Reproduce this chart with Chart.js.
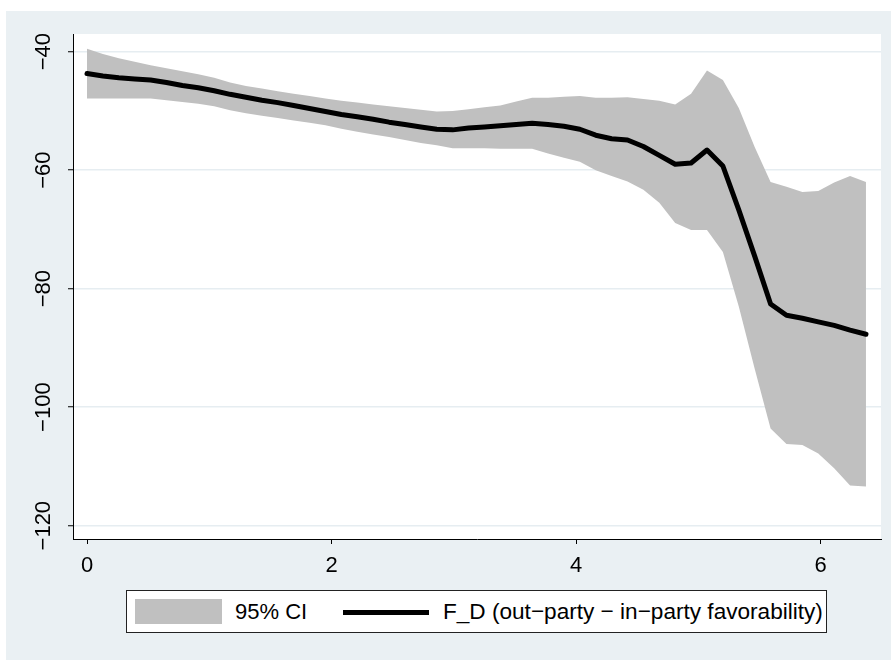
<!DOCTYPE html>
<html>
<head>
<meta charset="utf-8">
<script src="https://cdn.jsdelivr.net/npm/chart.js@4.4.1/dist/chart.umd.min.js"></script>
<style>
  html, body { margin: 0; padding: 0; background: #ffffff; }
  #wrap { position: relative; width: 891px; height: 660px; }
  #c { position: absolute; left: 0; top: 0; }
  #legend {
    position: absolute; left: 126px; top: 590px; width: 701px; height: 43px;
    box-sizing: border-box; border: 1px solid #222; background: #ffffff;
    font-family: "Liberation Sans", Arial, Helvetica, sans-serif; font-size: 22px; color: #000;
  }
  #legend .sw1 { position: absolute; left: 8px; top: 8px; width: 87px; height: 25px; background: #c0c0c0; }
  #legend .t1 { position: absolute; left: 108px; top: 8px; line-height: 25px; white-space: nowrap; }
  #legend .sw2 { position: absolute; left: 216px; top: 19px; width: 86px; height: 5px; background: #000; }
  #legend .t2 { position: absolute; left: 316px; top: 8px; line-height: 25px; white-space: nowrap; font-size: 22.6px; }
</style>
</head>
<body>
<div id="wrap">
  <canvas id="c" width="891" height="660"></canvas>
  <div id="legend">
    <div class="sw1"></div><div class="t1">95% CI</div>
    <div class="sw2"></div><div class="t2">F_D (out−party − in−party favorability)</div>
  </div>
</div>
<script>
// ---- data ----
const xValues = [0, 0.13, 0.26, 0.39, 0.52, 0.65, 0.78, 0.91, 1.04, 1.17,
  1.30, 1.43, 1.56, 1.69, 1.82, 1.95, 2.08, 2.21, 2.34, 2.47,
  2.60, 2.73, 2.86, 2.99, 3.12, 3.25, 3.38, 3.51, 3.64, 3.77,
  3.90, 4.03, 4.16, 4.29, 4.42, 4.55, 4.68, 4.81, 4.94, 5.07,
  5.20, 5.33, 5.46, 5.59, 5.72, 5.85, 5.98, 6.11, 6.24, 6.37];

const fdValues = [-43.7, -44.1, -44.4, -44.6, -44.8, -45.2, -45.7, -46.1, -46.6, -47.2,
  -47.7, -48.2, -48.6, -49.1, -49.6, -50.1, -50.6, -51.0, -51.4, -51.9,
  -52.3, -52.7, -53.1, -53.2, -52.9, -52.7, -52.5, -52.3, -52.1, -52.3,
  -52.6, -53.1, -54.1, -54.7, -54.9, -56.0, -57.5, -59.0, -58.8, -56.6,
  -59.3, -66.7, -74.5, -82.6, -84.5, -85.0, -85.6, -86.2, -87.0, -87.7];

const ciUpper = [-39.5, -40.4, -41.1, -41.7, -42.3, -42.8, -43.3, -43.8, -44.4, -45.2,
  -45.8, -46.2, -46.7, -47.1, -47.5, -47.9, -48.3, -48.6, -48.9, -49.2,
  -49.5, -49.8, -50.1, -50.0, -49.7, -49.4, -49.1, -48.4, -47.8, -47.8,
  -47.6, -47.5, -47.8, -47.8, -47.7, -48.0, -48.3, -48.9, -47.1, -43.2,
  -44.8, -49.5, -56.1, -62.0, -62.8, -63.7, -63.5, -62.1, -61.0, -62.0];

const ciLower = [-47.9, -47.9, -47.9, -47.9, -47.9, -48.2, -48.5, -48.8, -49.2, -49.9,
  -50.4, -50.8, -51.2, -51.6, -52.0, -52.4, -53.0, -53.5, -54.0, -54.4,
  -54.9, -55.4, -55.8, -56.3, -56.3, -56.3, -56.4, -56.4, -56.4, -57.2,
  -57.9, -58.6, -60.0, -61.0, -61.9, -63.3, -65.5, -68.9, -70.1, -70.1,
  -73.8, -83.0, -93.5, -103.6, -106.2, -106.4, -107.8, -110.3, -113.2, -113.4];

const xTicks = [0, 2, 4, 6];
const xTickLabels = ['0', '2', '4', '6'];
const yTicks = [-40, -60, -80, -100, -120];
const yTickLabels = ['\u221240', '\u221260', '\u221280', '\u2212100', '\u2212120'];

// ---- styling ----
const REGION = '#eaf0f3';
const GRID = '#e6edf1';
const BAND = '#c0c0c0';
const FONT = { family: '"Liberation Sans", Arial, Helvetica, sans-serif', size: 22 };

const pts = (ys) => xValues.map((x, i) => ({ x: x, y: ys[i] }));

const bgPlugin = {
  id: 'bg',
  beforeDraw(chart) {
    const ctx = chart.ctx;
    const a = chart.chartArea;
    ctx.save();
    ctx.fillStyle = '#ffffff';
    ctx.fillRect(0, 0, chart.width, chart.height);
    ctx.fillStyle = REGION;
    ctx.fillRect(6, 11, chart.width - 6, chart.height - 11);
    ctx.fillStyle = '#ffffff';
    ctx.fillRect(a.left, a.top, a.right - a.left, a.bottom - a.top);
    ctx.restore();
  }
};

new Chart(document.getElementById('c'), {
  type: 'line',
  data: {
    datasets: [
      {
        label: 'F_D (out\u2212party \u2212 in\u2212party favorability)',
        data: pts(fdValues),
        borderColor: '#000000',
        borderWidth: 5,
        borderCapStyle: 'round',
        borderJoinStyle: 'round',
        pointRadius: 0,
        tension: 0,
        fill: false
      },
      {
        label: '95% CI upper',
        data: pts(ciUpper),
        borderWidth: 0,
        borderColor: 'rgba(0,0,0,0)',
        backgroundColor: BAND,
        pointRadius: 0,
        tension: 0,
        fill: '+1'
      },
      {
        label: '95% CI lower',
        data: pts(ciLower),
        borderWidth: 0,
        borderColor: 'rgba(0,0,0,0)',
        backgroundColor: BAND,
        pointRadius: 0,
        tension: 0,
        fill: false
      }
    ]
  },
  options: {
    responsive: false,
    animation: false,
    events: [],
    layout: { padding: { left: 0, top: 34, right: 10, bottom: 71 } },
    plugins: { legend: { display: false }, tooltip: { enabled: false } },
    scales: {
      x: {
        type: 'linear',
        min: -0.1145,
        max: 6.493,
        afterFit(s) { s.height = 50; },
        afterBuildTicks(s) { s.ticks = xTicks.map(v => ({ value: v })); },
        grid: { drawOnChartArea: false, drawTicks: true, tickLength: 5, tickColor: '#000', tickWidth: 1 },
        border: { display: true, color: '#000', width: 1 },
        ticks: {
          color: '#000', font: FONT, padding: 9, maxRotation: 0, autoSkip: false,
          callback(v) { const i = xTicks.indexOf(v); return i >= 0 ? xTickLabels[i] : ''; }
        }
      },
      y: {
        type: 'linear',
        min: -122.25,
        max: -37.02,
        afterFit(s) { s.width = 73; },
        afterBuildTicks(s) { s.ticks = yTicks.map(v => ({ value: v })); },
        grid: { color: GRID, lineWidth: 1.5, drawTicks: true, tickLength: 5, tickColor: '#000', tickWidth: 1 },
        border: { display: true, color: '#000', width: 1 },
        ticks: {
          color: '#000', font: FONT, padding: -1, minRotation: 90, maxRotation: 90,
          crossAlign: 'center', autoSkip: false,
          callback(v) { const i = yTicks.indexOf(v); return i >= 0 ? yTickLabels[i] : ''; }
        }
      }
    }
  },
  plugins: [bgPlugin]
});
</script>
</body>
</html>
